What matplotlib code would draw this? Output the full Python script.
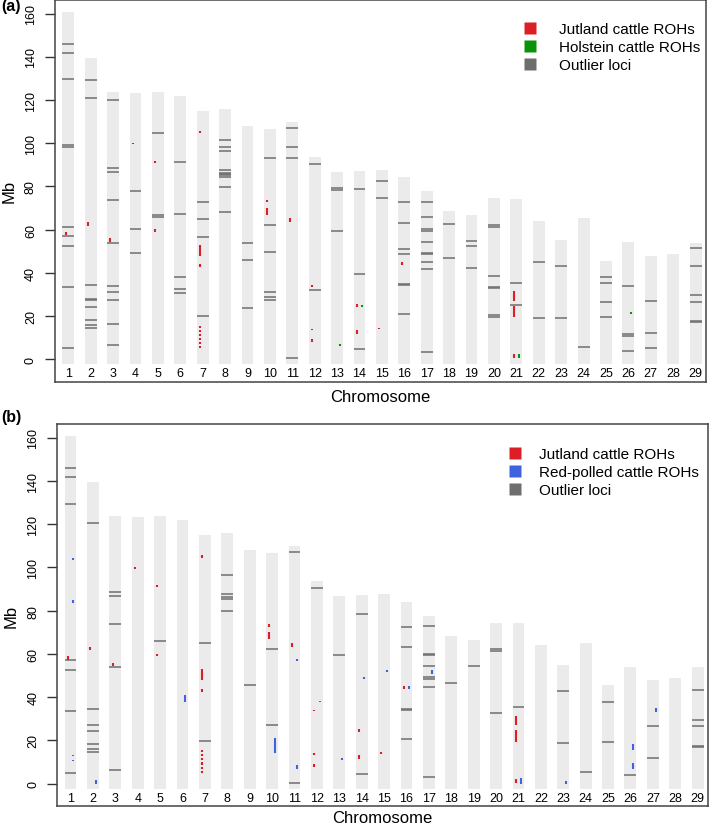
import matplotlib
matplotlib.use("Agg")
import matplotlib.pyplot as plt
from matplotlib.lines import Line2D
import numpy as np

plt.rcParams['font.family'] = ['Liberation Sans', 'DejaVu Sans']

# ---------------- data ----------------
chromosomes = list(range(1, 30))
chrom_length_mb = [158.34, 137.06, 121.43, 120.83, 121.19, 119.46, 112.64, 113.38,
                   105.71, 104.31, 107.31, 91.16, 84.24, 84.65, 85.30, 81.72, 75.16,
                   66.00, 64.06, 72.04, 71.60, 61.44, 52.53, 62.71, 42.90, 51.68,
                   45.41, 46.31, 51.51]
y_ticks = [0, 20, 40, 60, 80, 100, 120, 140, 160]

outliers_a = {
    1: [146.1, 141.9, 129.7, 99.2, 98.5, 61.2, 57.1, 52.5, 33.5, 5.1],
    2: [129.4, 120.8, 34.4, 27.9, 27.2, 24.2, 18.1, 15.9, 14.4],
    3: [120.0, 88.6, 86.6, 73.8, 53.9, 34.0, 31.2, 27.2, 16.2, 6.5],
    4: [77.7, 60.5, 49.0],
    5: [104.6, 66.7, 65.9],
    6: [91.4, 67.2, 37.8, 32.3, 30.7],
    7: [72.7, 65.0, 56.4, 19.9],
    8: [101.3, 98.5, 96.2, 87.7, 86.4, 85.8, 85.2, 84.2, 79.8, 68.0],
    9: [53.6, 45.9, 23.6],
    10: [93.3, 62.1, 49.7, 31.2, 28.7, 27.2],
    11: [107.0, 98.2, 93.1, 0.3],
    12: [90.5, 31.8],
    13: [79.4, 78.3, 59.5],
    14: [78.6, 39.2, 4.6],
    15: [82.3, 74.7],
    16: [72.6, 63.2, 51.0, 48.5, 34.7, 34.1, 20.8],
    17: [72.7, 65.9, 60.2, 59.5, 54.4, 49.1, 48.5, 44.8, 41.5, 3.2],
    18: [62.7, 46.6],
    19: [54.5, 52.5, 42.3],
    20: [62.0, 61.2, 38.6, 33.5, 32.8, 20.2, 19.5],
    21: [35.4, 25.2],
    22: [44.8, 19.0],
    23: [42.9, 18.8],
    24: [5.4],
    25: [38.0, 35.4, 26.3, 19.3],
    26: [34.0, 11.6, 10.5, 3.9],
    27: [26.7, 11.9, 4.9],
    28: [],
    29: [51.4, 43.2, 29.7, 26.6, 17.6, 17.0],
}

outliers_b = {
    1: [146.1, 141.9, 129.6, 57.1, 52.7, 33.4, 4.9],
    2: [120.8, 34.3, 27.2, 24.2, 18.1, 16.1, 14.4],
    3: [88.8, 86.8, 73.8, 53.9, 6.5],
    5: [65.9],
    7: [65.0, 19.9],
    8: [96.4, 87.6, 86.2, 85.4, 79.8],
    9: [45.7],
    10: [62.1, 27.0],
    11: [107.0, 0.2],
    12: [90.5],
    13: [59.5],
    14: [78.5, 4.5],
    16: [72.6, 63.0, 34.7, 34.1, 20.8],
    17: [72.7, 60.1, 59.5, 54.2, 49.1, 48.5, 44.6, 3.2],
    18: [46.7],
    19: [54.5],
    20: [62.1, 61.4, 32.7],
    21: [35.4],
    23: [42.8, 18.8],
    24: [5.4],
    25: [37.8, 19.3],
    26: [3.9],
    27: [26.7, 11.9],
    29: [43.2, 29.5, 26.6, 17.6, 17.0],
}

# ROH segments (start Mb, end Mb)
jutland_roh = {
    1: [(57.3, 59.0)],
    2: [(61.8, 63.4)],
    3: [(54.3, 56.0)],
    4: [(99.5, 100.3)],
    5: [(91.0, 91.9), (58.9, 60.2)],
    7: [(104.6, 105.6), (47.9, 53.0), (42.6, 43.9),
        (14.5, 15.5), (12.6, 13.6), (10.7, 11.7), (8.8, 9.8), (6.9, 7.9), (5.0, 6.0)],
    10: [(72.6, 73.8), (66.8, 70.0)],
    11: [(63.3, 65.2)],
    12: [(33.5, 34.2), (13.3, 14.1), (7.7, 9.3)],
    14: [(24.1, 25.3), (11.6, 13.3)],
    15: [(13.8, 14.6)],
    16: [(43.7, 45.2)],
    21: [(27.0, 31.4), (19.3, 24.7), (0.5, 2.3)],
}

holstein_roh = {
    13: [(6.0, 7.0)],
    14: [(24.2, 25.2)],
    21: [(0.3, 2.3)],
    26: [(21.1, 21.6)],
}

redpolled_roh = {
    1: [(103.7, 104.6), (83.8, 84.8), (12.6, 13.4), (10.3, 11.1)],
    2: [(0.0, 1.9)],
    6: [(37.7, 40.8)],
    10: [(14.2, 21.2)],
    11: [(56.8, 57.8), (6.8, 8.8)],
    12: [(37.6, 38.4)],
    13: [(11.0, 11.9)],
    14: [(48.6, 49.4)],
    15: [(51.6, 52.7)],
    16: [(43.6, 45.1)],
    17: [(50.8, 52.5)],
    21: [(-0.2, 2.8)],
    23: [(0.0, 1.1)],
    26: [(15.4, 18.1), (6.6, 9.4)],
    27: [(33.0, 35.1)],
}

# ---------------- style ----------------
BAR_COLOR = '#EBEBEB'
OUT_COLOR = '#6E6E6E'
RED = '#DC1F26'
GREEN = '#0A930A'
BLUE = '#3F63E0'
BAR_W = 0.53
PAD = 2.5
ROH_OFF = 0.12

W, H = 709, 828
fig = plt.figure(figsize=(W / 100, H / 100), dpi=100)


def px_axes(left, top, right, bottom):
    return fig.add_axes([left / W, 1 - bottom / H, (right - left) / W, (bottom - top) / H])


def draw_panel(ax, outliers, roh_left, roh_right, right_color, legend_items,
               legend_anchor, text_pad, xlabel_pad):
    lengths = np.array(chrom_length_mb)
    ax.bar(chromosomes, lengths + 2 * PAD, bottom=-PAD, width=BAR_W,
           color=BAR_COLOR, edgecolor='none', zorder=1)
    for c, vals in outliers.items():
        if vals:
            ax.hlines(vals, c - BAR_W / 2, c + BAR_W / 2, color=OUT_COLOR,
                      lw=1.1, zorder=2)
    for roh, off, col in ((roh_left, -ROH_OFF, RED), (roh_right, ROH_OFF, right_color)):
        for c, segs in roh.items():
            for s, e in segs:
                ax.vlines(c + off, s, e, color=col, lw=1.5, zorder=3,
                          capstyle='butt')
    for c in chromosomes:
        ax.text(c, -6.5, str(c), ha='center', va='center', fontsize=9, color='black')
    ax.set_xlim(0.41, 29.45)
    ax.set_ylim(-10.5, 166.4)
    ax.set_xticks([])
    ax.set_yticks(y_ticks)
    ax.set_yticklabels([str(t) for t in y_ticks])
    ax.tick_params(axis='y', length=7, width=1, pad=6, labelsize=9,
                   labelrotation=90, color='#333333')
    for lbl in ax.get_yticklabels():
        lbl.set_va('center')
    for sp in ax.spines.values():
        sp.set_linewidth(1.1)
        sp.set_color('#444444')
    ax.set_xlabel('Chromosome', fontsize=12, labelpad=xlabel_pad)
    ax.set_ylabel('Mb', fontsize=12, labelpad=6)
    handles = [Line2D([], [], marker='s', linestyle='none', markersize=8.6,
                      markerfacecolor=col, markeredgecolor='none') for _, col in legend_items]
    ax.legend(handles, [lab for lab, _ in legend_items], loc='upper right',
              bbox_to_anchor=legend_anchor, bbox_transform=fig.transFigure,
              frameon=False, fontsize=11, handlelength=1.0, handletextpad=text_pad,
              labelspacing=0.27, borderpad=0, borderaxespad=0)


ax_a = px_axes(55, 1, 705.7, 382.7)
draw_panel(ax_a, outliers_a, jutland_roh, holstein_roh, GREEN,
           [('Jutland cattle ROHs', RED), ('Holstein cattle ROHs', GREEN),
            ('Outlier loci', OUT_COLOR)],
           (700 / W, 1 - 23 / H), 1.4, 5.5)

ax_b = px_axes(57.3, 425, 707.7, 807.3)
draw_panel(ax_b, outliers_b, jutland_roh, redpolled_roh, BLUE,
           [('Jutland cattle ROHs', RED), ('Red-polled cattle ROHs', BLUE),
            ('Outlier loci', OUT_COLOR)],
           (699 / W, 1 - 448 / H), 1.1, 3.0)

fig.text(1 / W, 1 - 7 / H, '(a)', fontsize=11.5, fontweight='bold', ha='left', va='center')
fig.text(1 / W, 1 - 418 / H, '(b)', fontsize=11.5, fontweight='bold', ha='left', va='center')

fig.savefig('out.png', dpi=100)
